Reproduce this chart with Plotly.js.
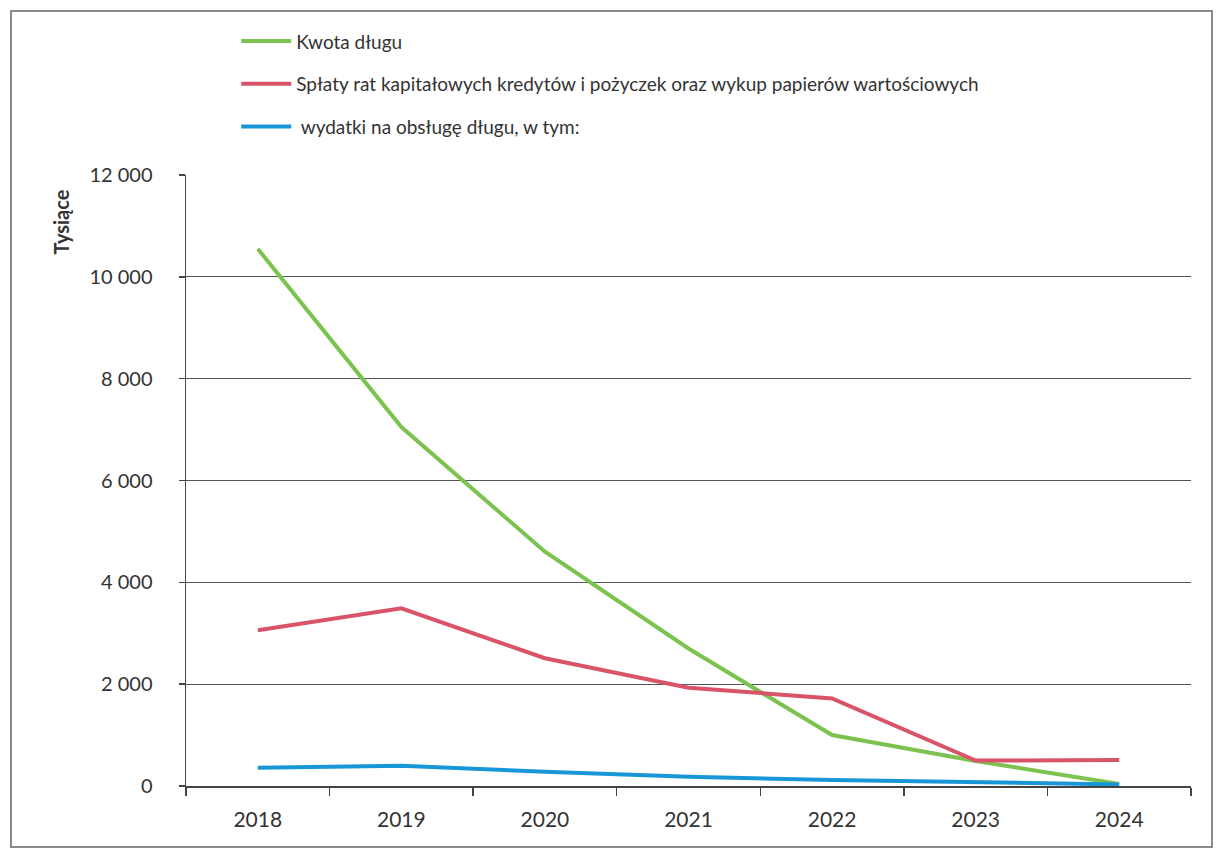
<!DOCTYPE html>
<html>
<head>
<meta charset="utf-8">
<script src="https://cdn.plot.ly/plotly-3.0.1.min.js"></script>
<style>
  html, body { margin: 0; padding: 0; background: #fff; }
  #wrap { position: relative; width: 1216px; height: 849px; }
  #chart { width: 1216px; height: 849px; }
  #frame { position: absolute; left: 10px; top: 10px; width: 1199px; height: 834px;
           border: 2px solid #8a8a8a; pointer-events: none; }
</style>
</head>
<body>
<div id="wrap">
  <div id="chart"></div>
  <div id="frame"></div>
</div>
<script>
const years = ["2018", "2019", "2020", "2021", "2022", "2023", "2024"];
const kwotaDlugu = [10550, 7050, 4600, 2700, 1000, 490, 40];
const splaty = [3060, 3490, 2510, 1930, 1720, 500, 510];
const wydatki = [360, 400, 280, 180, 120, 70, 30];

const seriesNames = [
  "Kwota długu",
  "Spłaty rat kapitałowych kredytów i pożyczek oraz wykup papierów wartościowych",
  " wydatki na obsługę długu, w tym:"
];
const yTickVals = [0, 2000, 4000, 6000, 8000, 10000, 12000];

const font = "Lato, 'Open Sans', sans-serif";

const traces = [
  { x: years, y: kwotaDlugu, name: seriesNames[0], legendgroup: "a",
    type: "scatter", mode: "lines", line: { color: "#7cc24f", width: 4 } },
  { x: years, y: splaty, name: seriesNames[1], legendgroup: "b",
    type: "scatter", mode: "lines", line: { color: "#d95468", width: 4 } },
  { x: years, y: wydatki, name: seriesNames[2], legendgroup: "c",
    type: "scatter", mode: "lines", line: { color: "#1797d8", width: 4 } }
];

const layout = {
  width: 1216, height: 849,
  margin: { l: 186, r: 25, t: 175, b: 63, autoexpand: false },
  paper_bgcolor: "#ffffff", plot_bgcolor: "#ffffff",
  font: { family: font, color: "#333", size: 21 },
  showlegend: true,
  legend: {
    x: 0.05, y: 1.25, xanchor: "left", yanchor: "top",
    orientation: "v", traceorder: "grouped",
    tracegroupgap: 15, itemwidth: 50,
    font: { family: font, size: 19, color: "#333" },
    bgcolor: "rgba(0,0,0,0)"
  },
  xaxis: {
    type: "category",
    range: [-0.5, 6.5],
    tickson: "boundaries",
    ticks: "outside", ticklen: 8, tickcolor: "#444", tickwidth: 1.5,
    showline: true, linecolor: "#444", linewidth: 1.5,
    showgrid: false, zeroline: false,
    tickfont: { family: font, size: 21, color: "#333" },
    ticklabelstandoff: 14
  },
  yaxis: {
    range: [0, 12000],
    tickvals: yTickVals,
    tickformat: ",d",
    ticks: "outside", ticklen: 6, tickcolor: "#444", tickwidth: 1.5,
    showline: true, linecolor: "#444", linewidth: 1.5,
    showgrid: true, gridcolor: "#555", gridwidth: 1.2,
    zeroline: false,
    tickfont: { family: font, size: 20, color: "#333" },
    ticklabelstandoff: 22
  },
  separators: ", ",
  annotations: [
    { text: "<b>Tysiące</b>", xref: "paper", yref: "paper",
      x: -0.124, y: 0.923, xanchor: "center", yanchor: "middle",
      textangle: -90, showarrow: false,
      font: { family: font, size: 20, color: "#333" } }
  ]
};

Plotly.newPlot("chart", traces, layout, { displayModeBar: false, staticPlot: true });
</script>
</body>
</html>
